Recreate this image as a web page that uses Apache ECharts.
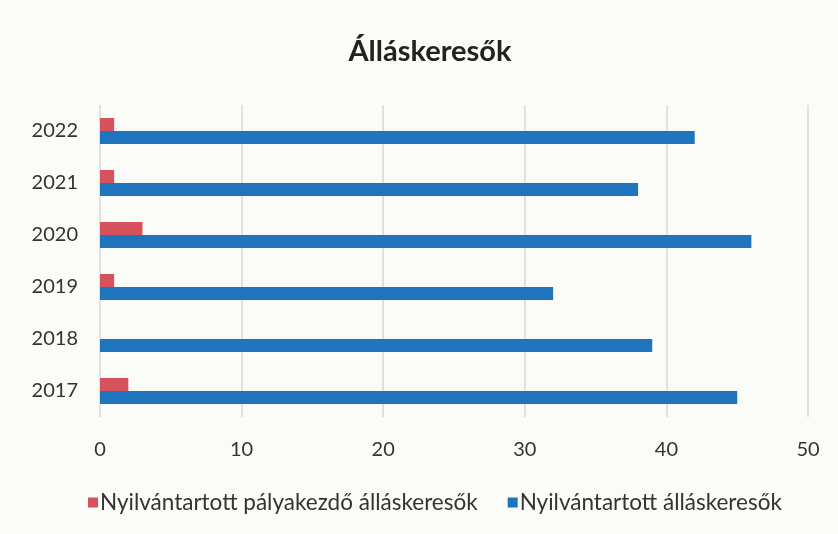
<!DOCTYPE html>
<html><head><meta charset="utf-8">
<script src="https://cdn.jsdelivr.net/npm/echarts@6/dist/echarts.min.js"></script>
<style>html,body{margin:0;padding:0;background:#fbfbf8;}#c{width:838px;height:534px;}</style>
</head><body><div id="c"></div>
<script>
const years = ['2017','2018','2019','2020','2021','2022'];
const palyakezdo = [2, 0, 1, 3, 1, 1];
const osszes = [45, 39, 32, 46, 38, 42];
const xTicks = [0, 10, 20, 30, 40, 50];
const seriesNames = ['Nyilvántartott pályakezdő álláskeresők', 'Nyilvántartott álláskeresők'];
const titleText = 'Álláskeresők';

const FONT = 'Lato';
const chart = echarts.init(document.getElementById('c'), null, {renderer: 'canvas'});
chart.setOption({
  backgroundColor: '#fbfbf8',
  animation: false,
  title: {
    text: titleText, left: 425, top: 32, textAlign: 'center',
    textStyle: {fontFamily: FONT, fontSize: 29, fontWeight: 'bold', color: '#222'}
  },
  legend: {
    top: 486, left: 83, itemWidth: 10, itemHeight: 10, itemGap: 30,
    icon: 'rect',
    textStyle: {fontFamily: FONT, fontSize: 22.5, color: '#333', padding: [0,0,0,-3]},
    data: seriesNames
  },
  grid: {left: 100, right: 30, top: 105, bottom: 117, containLabel: false},
  xAxis: {
    type: 'value', min: xTicks[0], max: xTicks[xTicks.length-1], interval: 10,
    axisLine: {show: false}, axisTick: {show: false},
    splitLine: {lineStyle: {color: '#d8d8d6', width: 1.5}},
    axisLabel: {fontFamily: FONT, fontSize: 20, color: '#333', margin: 23}
  },
  yAxis: {
    type: 'category', data: years,
    axisLine: {show: false}, axisTick: {show: false},
    axisLabel: {fontFamily: FONT, fontSize: 20, color: '#333', margin: 22}
  },
  series: [
    {name: seriesNames[0], type: 'bar', data: palyakezdo, itemStyle: {color: '#d6535e'}, barGap: '0%', barCategoryGap: '50%'},
    {name: seriesNames[1], type: 'bar', data: osszes, itemStyle: {color: '#1f75bd'}, barGap: '0%', barCategoryGap: '50%'}
  ]
});
</script></body></html>
